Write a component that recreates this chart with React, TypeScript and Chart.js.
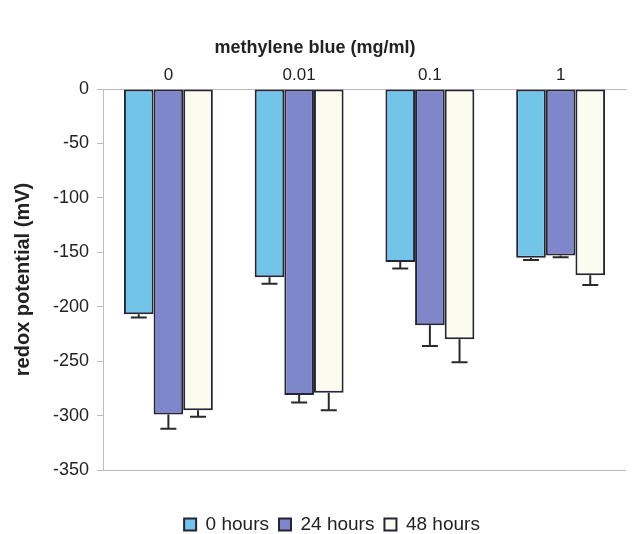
import React, { useEffect, useRef } from "react";
import { Chart, registerables } from "chart.js";

Chart.register(...registerables);

const categories = ["0", "0.01", "0.1", "1"];
const seriesNames = ["0 hours", "24 hours", "48 hours"];
const hours0 = [-207, -173, -159, -155];
const hours24 = [-299, -281, -217, -153];
const hours48 = [-295, -279, -230, -171];
const err0 = [3, 6, 6, 2];
const err24 = [13, 7, 19, 1.5];
const err48 = [6, 16, 21, 9];
const yTicks = [0, -50, -100, -150, -200, -250, -300, -350];

const colors = ["#72c5e9", "#7f86ca", "#fbfbf0"];

const errorBarPlugin = {
  id: "errorBars",
  afterLayout(chart: any) {
    if (chart.legend) chart.legend.left += 34;
  },
  afterDatasetsDraw(chart: any) {
    const ctx = chart.ctx;
    const yScale = chart.scales.y;
    chart.data.datasets.forEach((ds: any, di: number) => {
      const meta = chart.getDatasetMeta(di);
      meta.data.forEach((bar: any, i: number) => {
        const v = ds.data[i];
        const e = ds.errors[i];
        const y1 = yScale.getPixelForValue(v);
        const y2 = yScale.getPixelForValue(v - e);
        const x = bar.x;
        ctx.save();
        ctx.strokeStyle = "#2a2a2a";
        ctx.lineWidth = 2;
        ctx.beginPath();
        ctx.moveTo(x, y1);
        ctx.lineTo(x, y2);
        ctx.moveTo(x - 8, y2);
        ctx.lineTo(x + 8, y2);
        ctx.stroke();
        ctx.restore();
      });
    });
  },
};

export default function App() {
  const ref = useRef<HTMLCanvasElement | null>(null);
  useEffect(() => {
    document.body.style.margin = "0";
    const chart = new Chart(ref.current as HTMLCanvasElement, {
      type: "bar",
      data: {
        labels: categories,
        datasets: [hours0, hours24, hours48].map((d, i) => ({
          label: seriesNames[i],
          data: d,
          errors: [err0, err24, err48][i],
          backgroundColor: colors[i],
          borderColor: "#252535",
          borderWidth: 2,
          borderSkipped: false,
          barPercentage: 1,
          categoryPercentage: 0.68,
          xAxisID: "x",
        })) as any,
      },
      options: {
        animation: false,
        responsive: false,
        layout: { padding: { left: 4, right: 6, top: 4, bottom: -10 } },
        plugins: {
          title: {
            display: true,
            text: "methylene blue (mg/ml)",
            font: { family: "Liberation Sans", size: 18, weight: "bold" },
            color: "#222",
            padding: { top: 33, bottom: 4 },
          },
          legend: {
            position: "bottom",
            labels: {
              boxWidth: 12,
              boxHeight: 12,
              font: { family: "Liberation Sans", size: 19 },
              color: "#222",
              padding: 10,
            },
          },
          tooltip: { enabled: false },
        },
        scales: {
          x: {
            position: "top",
            grid: { display: false, drawTicks: false },
            border: { color: "#bdbdbd", width: 1 },
            ticks: {
              font: { family: "Liberation Sans", size: 17 },
              color: "#222",
              padding: 3,
            },
          },
          spacer: {
            type: "category",
            position: "bottom",
            labels: [""],
            grid: { display: false, drawTicks: false },
            border: { display: false },
            ticks: { display: false },
            afterFit: (s: any) => {
              s.height = 35;
            },
          },
          y: {
            min: -350,
            max: 0,
            afterBuildTicks: (axis: any) => {
              axis.ticks = yTicks.map((v) => ({ value: v }));
            },
            grid: {
              color: (c: any) => (c.tick && c.tick.value === -350 ? "#bdbdbd" : "rgba(0,0,0,0)"),
              tickColor: "#bdbdbd",
              tickLength: 6,
            },
            border: { color: "#bdbdbd", width: 1 },
            ticks: {
              font: { family: "Liberation Sans", size: 18 },
              color: "#222",
              padding: 8,
            },
            title: {
              display: true,
              text: "redox potential (mV)",
              font: { family: "Liberation Sans", size: 20, weight: "bold" },
              color: "#222",
              padding: { top: 7, bottom: 10 },
            },
          },
        },
      },
      plugins: [errorBarPlugin],
    } as any);
    return () => chart.destroy();
  }, []);
  return (
    <div style={{ width: 632, height: 534 }}>
      <canvas ref={ref} width={632} height={534} />
    </div>
  );
}
